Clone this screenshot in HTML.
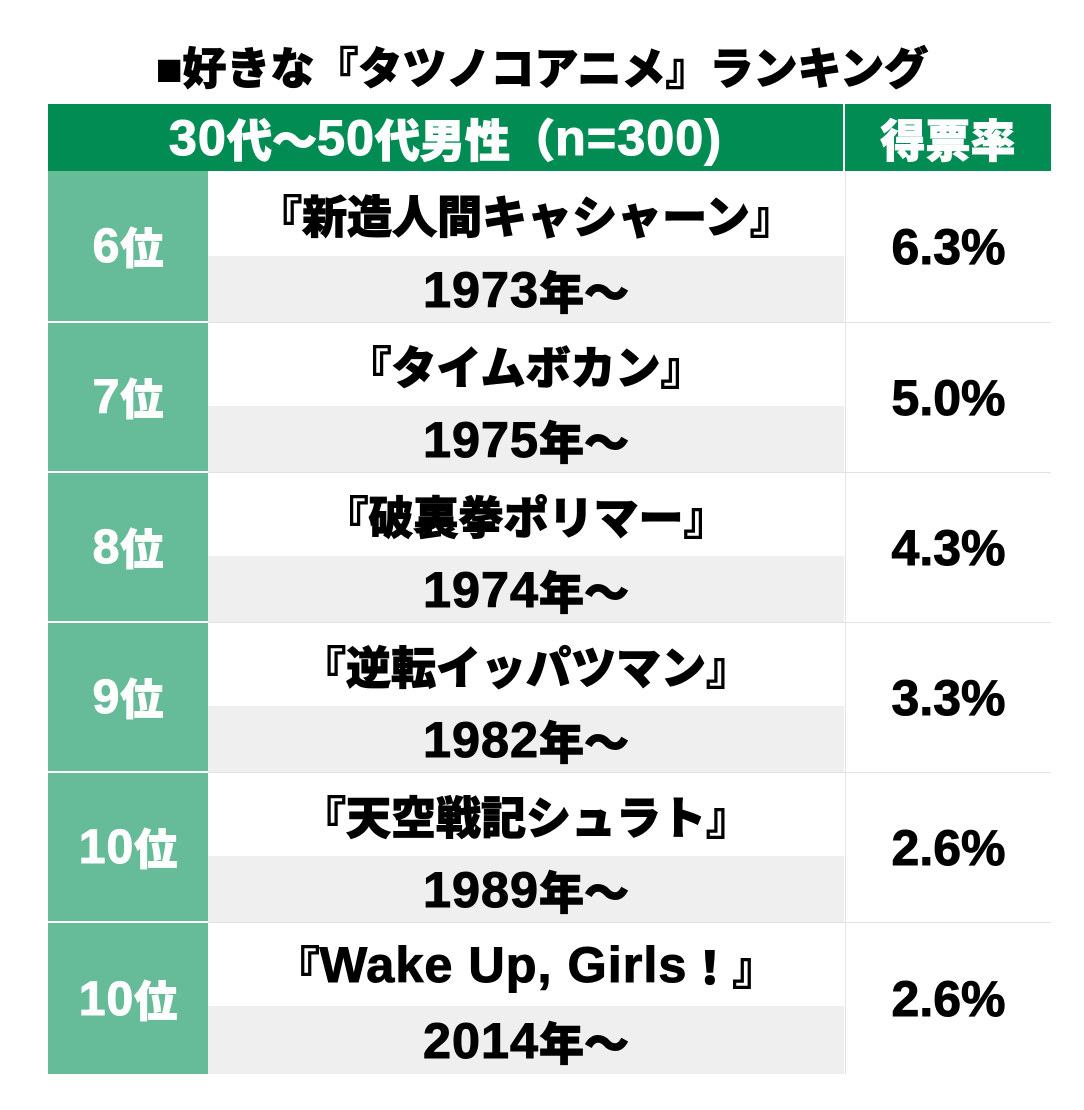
<!DOCTYPE html>
<html><head><meta charset="utf-8"><style>
body{margin:0;width:1084px;height:1110px;background:#fff;position:relative;font-family:"Liberation Sans","Noto Sans CJK JP",sans-serif;font-weight:900;overflow:hidden}
div{position:absolute;box-sizing:border-box}
.c{display:flex;align-items:center;justify-content:center;white-space:nowrap;-webkit-text-stroke:1px currentColor}
.t{left:0;width:1084px;top:36px;height:58px;font-size:44px;color:#000}
.h{top:104px;height:67px;background:#008c52;color:#fff;font-size:45px}
.r{left:48px;width:160px;background:#66bb98;color:#fff;font-size:43px}
.w{left:208px;width:636px;background:#fff;font-size:45px;color:#000}
.g{left:208px;width:636px;background:#efefef;font-size:45px;color:#000}
.p{left:845px;width:206px;background:#fff;font-size:50px;color:#000;border-left:1px solid #e4e4e4}
.l{left:208px;width:843px;height:1px;background:#e2e2e2}
.n{font-size:1.12em;letter-spacing:1px}
</style></head><body>
<div class="c t">■好きな『タツノコアニメ』ランキング</div>
<div class="c h" style="left:48px;width:795px"><span class="n">30</span>代～<span class="n">50</span>代男性（<span class="n">n=300)</span></div>
<div class="c h" style="left:845px;width:206px">得票率</div>

<div class="c r" style="top:171px;height:150px"><span class="n">6</span>位</div>
<div class="c w" style="top:171px;height:85px">『新造人間キャシャーン』</div>
<div class="c g" style="top:256px;height:66px"><span class="n">1973</span>年～</div>
<div class="c p" style="top:171px;height:151px">6.3%</div>
<div class="l" style="top:322px"></div>

<div class="c r" style="top:323px;height:148px"><span class="n">7</span>位</div>
<div class="c w" style="top:323px;height:83px">『タイムボカン』</div>
<div class="c g" style="top:406px;height:66px"><span class="n">1975</span>年～</div>
<div class="c p" style="top:323px;height:149px">5.0%</div>
<div class="l" style="top:472px"></div>

<div class="c r" style="top:473px;height:148px"><span class="n">8</span>位</div>
<div class="c w" style="top:473px;height:83px">『破裏拳ポリマー』</div>
<div class="c g" style="top:556px;height:66px"><span class="n">1974</span>年～</div>
<div class="c p" style="top:473px;height:149px">4.3%</div>
<div class="l" style="top:622px"></div>

<div class="c r" style="top:623px;height:148px"><span class="n">9</span>位</div>
<div class="c w" style="top:623px;height:83px">『逆転イッパツマン』</div>
<div class="c g" style="top:706px;height:66px"><span class="n">1982</span>年～</div>
<div class="c p" style="top:623px;height:149px">3.3%</div>
<div class="l" style="top:772px"></div>

<div class="c r" style="top:773px;height:148px"><span class="n">10</span>位</div>
<div class="c w" style="top:773px;height:83px">『天空戦記シュラト』</div>
<div class="c g" style="top:856px;height:66px"><span class="n">1989</span>年～</div>
<div class="c p" style="top:773px;height:149px">2.6%</div>
<div class="l" style="top:922px"></div>

<div class="c r" style="top:923px;height:151px"><span class="n">10</span>位</div>
<div class="c w" style="top:923px;height:83px">『<span class="n">Wake Up, Girls</span>！』</div>
<div class="c g" style="top:1006px;height:68px"><span class="n">2014</span>年～</div>
<div class="c p" style="top:923px;height:151px">2.6%</div>
</body></html>
